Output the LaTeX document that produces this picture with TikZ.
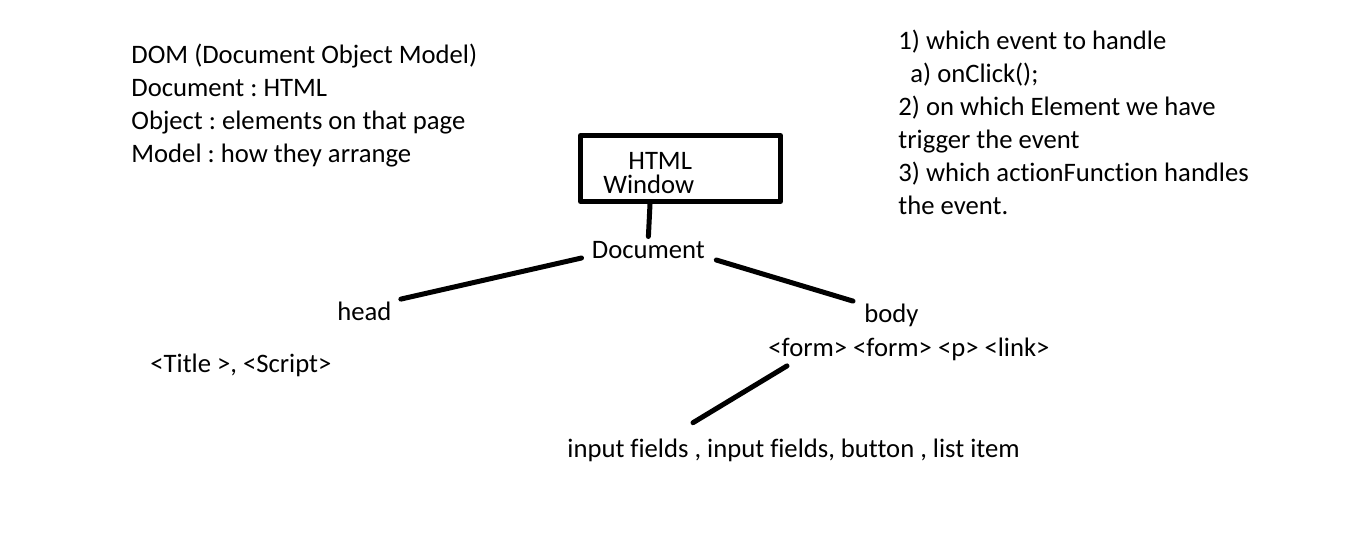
\documentclass[tikz,border=0pt]{standalone}
\usepackage{fontspec}
\setmainfont{Carlito}[Ligatures=NoCommon]
\frenchspacing
\begin{document}
\begin{tikzpicture}[x=0.5pt,y=-0.5pt,line cap=round,line join=round,
  txt/.style={anchor=base west,inner sep=0pt,font=\fontsize{13.33}{16}\selectfont},
  link/.style={line width=2.5pt}]
  \useasboundingbox[fill=white] (0,0) rectangle (1350,553);
  % notes
  \foreach \t [count=\i] in {DOM (Document Object Model),{Document : HTML},
      {Object : elements on that page},{Model : how they arrange}}
    \node[txt] (dom\i) at (131,{63+33*(\i-1)}) {\t};
  \foreach \t [count=\i] in {1) which event to handle,\hspace{6pt}a) onClick();,
      2) on which Element we have,trigger the event,
      3) which actionFunction handles,the event.}
    \node[txt] (evt\i) at (898,{49.5+32.9*(\i-1)}) {\t};
  % tree
  \node[draw,line width=2.5pt,minimum width=100pt,minimum height=33pt] (win) at (680.5,168.5) {};
  \node[txt] (html) at (628,169.5) {HTML};
  \node[txt] (wnd) at (603,193.5) {Window};
  \node[txt] (doc) at (591.5,258) {Document};
  \node[txt] (head) at (337,320) {head};
  \node[txt] (body) at (864,322) {body};
  \node[txt] (form) at (768,356) {<form> <form> <p> <link>};
  \node[txt] (tags) at (150,372) {<Title >, <Script>};
  \node[txt] (inp) at (567,457) {input fields , input fields, button , list item};
  \draw[link] ([xshift=-15.25pt]win.south) -- ([yshift=2pt]doc.north);
  \draw[link] ([xshift=-5pt]doc.base west) -- ([xshift=4.5pt,yshift=1pt]head.north east);
  \draw[link] ([xshift=5.5pt,yshift=-1pt]doc.base east) -- ([xshift=-5.5pt,yshift=1pt]body.north west);
  \draw[link] ([xshift=9.5pt,yshift=-2.6pt]form.south west) -- ([xshift=63pt,yshift=7.7pt]inp.north west);
\end{tikzpicture}
\end{document}
